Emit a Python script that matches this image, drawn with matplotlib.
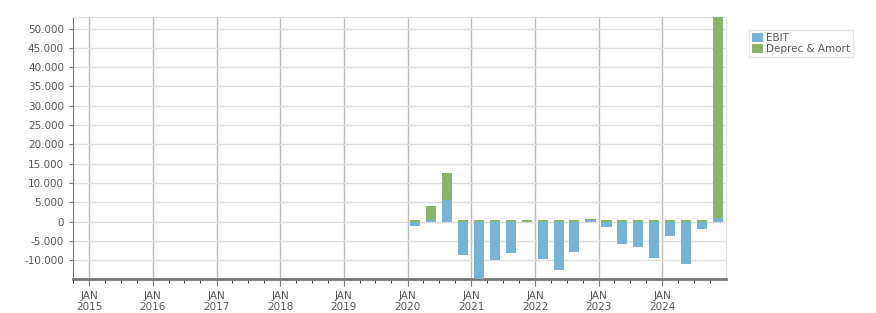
import numpy as np
import pandas as pd
import matplotlib
matplotlib.use("Agg")
import matplotlib.pyplot as plt
import matplotlib.dates as mdates
from matplotlib.ticker import FuncFormatter, MultipleLocator

# Quarterly data
quarters = ["2020Q1", "2020Q2", "2020Q3", "2020Q4",
            "2021Q1", "2021Q2", "2021Q3", "2021Q4",
            "2022Q1", "2022Q2", "2022Q3", "2022Q4",
            "2023Q1", "2023Q2", "2023Q3", "2023Q4",
            "2024Q1", "2024Q2", "2024Q3", "2024Q4"]
ebit = [-1100, 300, 5600, -8600,
        -15500, -9900, -8100, 0,
        -9600, -12500, -7800, 400,
        -1400, -5800, -6500, -9400,
        -3700, -10900, -1900, 800]
deprec = [300, 3800, 7000, 300,
          300, 300, 300, 300,
          300, 300, 300, 250,
          300, 300, 300, 300,
          300, 300, 300, 55000]

blue = "#78b3d6"
green = "#8bb36c"
txt = "#555555"

ebit = np.array(ebit)
deprec = np.array(deprec)
starts = pd.PeriodIndex(quarters, freq="Q").start_time
x = starts + pd.Timedelta(days=45)
bottom = np.where(ebit > 0, ebit, 0)

fig = plt.figure(figsize=(8.76, 3.13), dpi=100)
ax = fig.add_axes([73 / 876, 1 - 279 / 313, (726 - 73) / 876, (279 - 17) / 313])

ax.bar(x, ebit, width=58, color=blue, label="EBIT", zorder=3)
ax.bar(x, deprec, width=58, bottom=bottom, color=green, label="Deprec & Amort", zorder=3)

ax.set_xlim(pd.Timestamp("2014-10-01"), pd.Timestamp("2024-12-31"))
ax.set_ylim(-14900, 53000)

ax.xaxis.set_major_locator(mdates.YearLocator())
ax.xaxis.set_minor_locator(mdates.MonthLocator(bymonth=(1, 4, 7, 10)))
ax.xaxis.set_major_formatter(FuncFormatter(
    lambda v, p: mdates.num2date(v).strftime("%b\n%Y").upper()))
ax.yaxis.set_major_locator(MultipleLocator(5000))
ax.yaxis.set_major_formatter(FuncFormatter(lambda v, p: f"{v:,.0f}".replace(",", ".")))

ax.grid(axis="y", color="#dddddd", linewidth=1, zorder=0)
ax.grid(axis="x", which="major", color="#bbbbbb", linewidth=1, zorder=0)

for s in ["top", "right"]:
    ax.spines[s].set_color("#dddddd")
ax.spines["left"].set_color("#777777")
ax.spines["bottom"].set_color("#777777")
ax.spines["bottom"].set_linewidth(2)

ax.tick_params(axis="both", colors="#777777", labelcolor=txt, labelsize=7.5)
ax.tick_params(axis="x", which="major", length=5)
ax.tick_params(axis="x", which="minor", length=3)
ax.tick_params(axis="y", length=3)
for lab in ax.get_xticklabels():
    lab.set_horizontalalignment("center")

leg = fig.legend(loc="upper left", bbox_to_anchor=(749 / 876, 1 - 30 / 313),
                 fontsize=7.5, frameon=True, fancybox=False, handlelength=1.0,
                 handleheight=1.0, handletextpad=0.3, borderpad=0.3,
                 labelspacing=0.05, borderaxespad=0)
leg.get_frame().set_edgecolor("#dddddd")
leg.get_frame().set_linewidth(1)
for t in leg.get_texts():
    t.set_color(txt)

fig.savefig("out.png", dpi=100)
